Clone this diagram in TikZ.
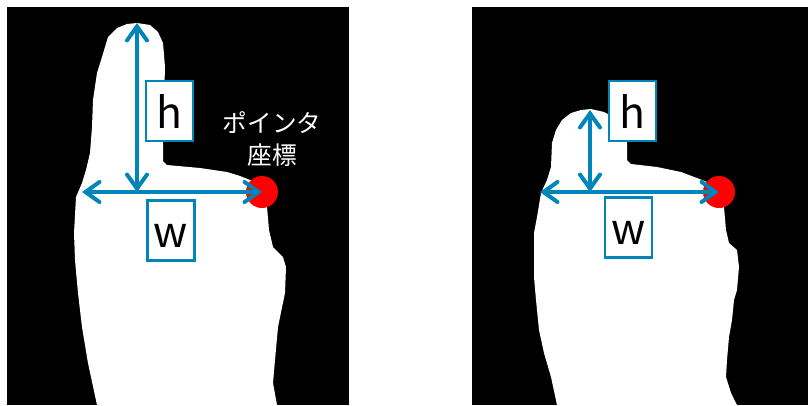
\documentclass[tikz,border=0pt]{standalone}
\usepackage{fontspec}
\setmainfont{Noto Sans CJK JP}
\usetikzlibrary{arrows.meta}
\definecolor{arrowblue}{RGB}{0,133,186}
\tikzset{
  panel/.style={fill=black, draw=none},
  hand/.style={fill=white, draw=none},
  tipdot/.style={circle, fill=red, draw=none, minimum size=24pt, inner sep=0pt},
  measure/.style={draw=arrowblue, line width=3pt,
    {Straight Barb[length=10.5pt,width=15pt,line cap=round]}-{Straight Barb[length=10.5pt,width=15pt,line cap=round]}},
  labelbox/.style={draw=arrowblue, line width=1.8pt, fill=white, inner sep=0pt,
    minimum width=35.5pt, minimum height=45pt, text height=35.25pt, text depth=9.75pt,
    font=\fontsize{32}{38}\selectfont},
  caption/.style={text=white, align=center, font=\fontsize{18.5}{24}\selectfont}
}
\begin{document}
\begin{tikzpicture}[x=0.75pt, y=-0.75pt]
  \useasboundingbox (0,0) rectangle (808,405);
  \fill[white] (0,0) rectangle (808,405);

  % left view: hand with raised finger
  \fill[panel] (7,7) rectangle (349,405);
  \fill[hand] (97,405) -- (88,363) -- (82,327) -- (78,293) -- (75,260) -- (74,233)
    -- (76,197) -- (82,183) -- (86,170) -- (90,153) -- (92,127) -- (93,100)
    -- (97,73) -- (102,57) -- (108,37) -- (117,28) -- (127,24) -- (137,23)
    -- (150,25) -- (158,32) -- (163,43) -- (165,67) -- (164,100) -- (163,140)
    -- (163,161) -- (167,165) -- (200,168) -- (227,172) -- (240,176) -- (255,182)
    -- (262,192) -- (267,207) -- (269,230) -- (273,247) -- (283,257) -- (286,267)
    -- (285,293) -- (278,327) -- (275,360) -- (273,383) -- (277,405) -- cycle;
  \node[tipdot] (lp) at (262,192) {};
  \coordinate (ltop) at (137,23);
  \coordinate (lbase) at (137,192);
  \coordinate (lleft) at (82,192);
  \draw[measure] (ltop) -- (lbase);
  \draw[measure] (lleft) -- (lp.center);
  \node[labelbox] (lh) at (169.5,111) {h};
  \node[labelbox] (lw) at (171,230.5) {w};
  \node[caption] (lcap) at (272,139) {ポインタ\\座標};

  % right view: hand with bent finger
  \fill[panel] (472,7) rectangle (808,405);
  \fill[hand] (557,405) -- (551,377) -- (544,353) -- (539,330) -- (536,300) -- (534,277)
    -- (534,233) -- (537,217) -- (541,193) -- (547,180) -- (551,167) -- (552,143)
    -- (556,130) -- (562,120) -- (571,113) -- (581,110) -- (591,109) -- (604,112)
    -- (616,118) -- (624,127) -- (627,140) -- (627,160) -- (631,164) -- (657,167)
    -- (681,172) -- (697,178) -- (712,184) -- (719,192) -- (724,207) -- (726,230)
    -- (729,243) -- (737,250) -- (739,267) -- (737,290) -- (734,300) -- (732,320)
    -- (729,337) -- (727,360) -- (726,377) -- (731,393) -- (737,405) -- cycle;
  \node[tipdot] (rp) at (719,192) {};
  \coordinate (rtop) at (590,110);
  \coordinate (rbase) at (590,192);
  \coordinate (rleft) at (540,192);
  \draw[measure] (rtop) -- (rbase);
  \draw[measure] (rleft) -- (rp.center);
  \node[labelbox] (rh) at (632.5,111) {h};
  \node[labelbox] (rw) at (628.5,227.5) {w};
\end{tikzpicture}
\end{document}
